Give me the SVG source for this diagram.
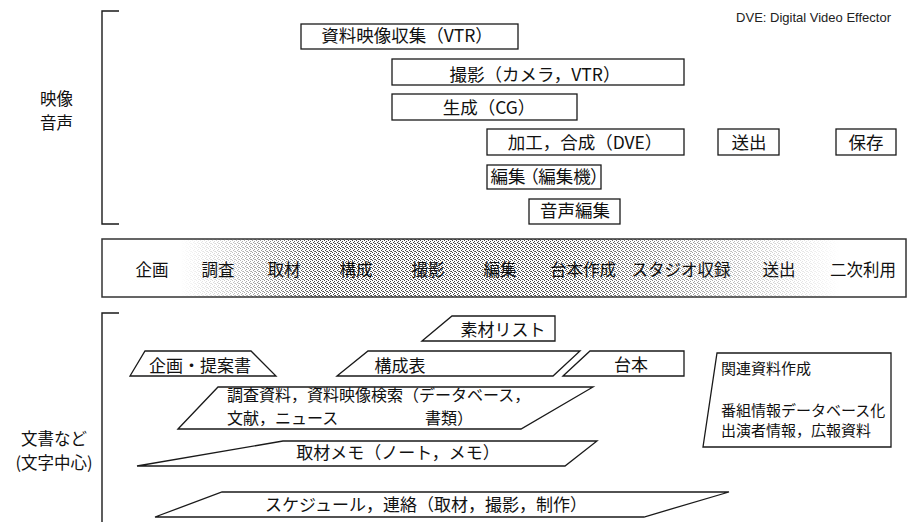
<svg xmlns="http://www.w3.org/2000/svg" width="908" height="522" viewBox="0 0 908 522">
<style>
.bx{fill:#fff;stroke:#1a1a1a;stroke-width:1.3}
.ln{fill:none;stroke:#1a1a1a;stroke-width:1.4}
.t{font-family:"Noto Sans CJK JP","Noto Sans",sans-serif;fill:#111}
.t18{font-size:17.5px}
.t17{font-size:17px}
.t16{font-size:16.5px}
.t15{font-size:15px}
.c{text-anchor:middle}
.palt{font-feature-settings:"palt"}
.en{font-family:"Liberation Sans",Arial,sans-serif;font-size:13px;fill:#222}
</style>
<defs>
<pattern id="dots" width="4" height="4" patternUnits="userSpaceOnUse">
<rect x="0" y="0" width="1" height="1" fill="#444"/>
<rect x="2" y="1" width="1" height="1" fill="#444"/>
<rect x="1" y="2" width="1" height="1" fill="#444"/>
<rect x="3" y="3" width="1" height="1" fill="#444"/>
<rect x="2" y="3" width="1" height="1" fill="#777"/>
</pattern>
<linearGradient id="fadeGrad" gradientUnits="userSpaceOnUse" x1="102" y1="0" x2="906" y2="0">
<stop offset="0.097" stop-color="#fff" stop-opacity="0"/>
<stop offset="0.159" stop-color="#fff" stop-opacity="0.3"/>
<stop offset="0.234" stop-color="#fff" stop-opacity="0.8"/>
<stop offset="0.271" stop-color="#fff" stop-opacity="1"/>
<stop offset="0.57" stop-color="#fff" stop-opacity="1"/>
<stop offset="0.67" stop-color="#fff" stop-opacity="0.75"/>
<stop offset="0.77" stop-color="#fff" stop-opacity="0.4"/>
<stop offset="0.87" stop-color="#fff" stop-opacity="0.15"/>
<stop offset="0.918" stop-color="#fff" stop-opacity="0"/>
</linearGradient>
<mask id="fade" maskUnits="userSpaceOnUse" x="0" y="0" width="908" height="522">
<rect x="102" y="239" width="804" height="58" fill="url(#fadeGrad)"/>
</mask>
</defs>
<rect width="908" height="522" fill="#fff"/>

<g id="brackets">
<path class="ln" d="M119,11 H102 V224 H119"/>
<path class="ln" d="M119,313 H102 V522"/>
</g>

<g id="label-eizo">
<text class="t t16"><tspan x="40" y="105">映像</tspan><tspan x="40" y="129">音声</tspan></text>
</g>
<g id="label-bunsho">
<text class="t t16 c"><tspan x="54" y="445">文書など</tspan><tspan x="54" y="469">(文字中心)</tspan></text>
</g>

<g id="note-dve">
<text class="en" x="891" y="22" text-anchor="end">DVE: Digital Video Effector</text>
</g>

<g id="node-shiryo-eizo">
<rect class="bx" x="301" y="24" width="217" height="25"/>
<text class="t t18 c" x="407" y="42">資料映像収集（VTR）</text>
</g>
<g id="node-satsuei">
<rect class="bx" x="392" y="59" width="292" height="26"/>
<text class="t t18 c" x="535" y="81">撮影（カメラ，VTR）</text>
</g>
<g id="node-seisei">
<rect class="bx" x="392" y="94" width="185" height="26"/>
<text class="t t18 c" x="489" y="114">生成（CG）</text>
</g>
<g id="node-kako">
<rect class="bx" x="487" y="129" width="197" height="26"/>
<text class="t t18 c" x="585" y="149">加工，合成（DVE）</text>
</g>
<g id="node-soshutsu">
<rect class="bx" x="718" y="129" width="61" height="26"/>
<text class="t t18 c" x="749" y="149">送出</text>
</g>
<g id="node-hozon">
<rect class="bx" x="836" y="129" width="60" height="26"/>
<text class="t t18 c" x="866" y="149">保存</text>
</g>
<g id="node-henshu">
<rect class="bx" x="487" y="165" width="114" height="24"/>
<text class="t t18 c palt" x="545" y="183">編集 （編集機）</text>
</g>
<g id="node-onsei">
<rect class="bx" x="529" y="199" width="91" height="25"/>
<text class="t t18 c" x="575" y="217">音声編集</text>
</g>

<g id="band">
<rect x="102" y="239" width="804" height="58" fill="#fff"/>
<rect x="102" y="239" width="804" height="58" fill="url(#dots)" mask="url(#fade)"/>
<rect x="102" y="239" width="804" height="58" fill="none" stroke="#333" stroke-width="1.5"/>
<text class="t t16 c" x="152" y="276">企画</text>
<text class="t t16 c" x="218" y="276">調査</text>
<text class="t t16 c" x="284" y="276">取材</text>
<text class="t t16 c" x="356" y="276">構成</text>
<text class="t t16 c" x="428" y="276">撮影</text>
<text class="t t16 c" x="500" y="276">編集</text>
<text class="t t16 c" x="583" y="276">台本作成</text>
<text class="t t16 c" x="681" y="276">スタジオ収録</text>
<text class="t t16 c" x="779" y="276">送出</text>
<text class="t t16 c" x="863" y="276">二次利用</text>
</g>

<g id="node-sozai">
<path class="bx" d="M422,341 L452,316 H555 V341 Z"/>
<text class="t t17 c" x="503" y="336">素材リスト</text>
</g>
<g id="node-kikaku">
<path class="bx" d="M130,376 L145,351 H251 L276,376 Z"/>
<text class="t t17 c" x="200" y="372">企画・提案書</text>
</g>
<g id="node-koseihyo">
<path class="bx" d="M337,376 L368,351 H580 L553,376 Z"/>
<text class="t t17 c" x="400" y="372">構成表</text>
</g>
<g id="node-daihon">
<path class="bx" d="M563,376 L590,351 H684 V376 Z"/>
<text class="t t17 c" x="631" y="371">台本</text>
</g>
<g id="node-chosa">
<path class="bx" d="M178,429 L218,387 H593 L521,429 Z"/>
<text class="t" style="font-size:16px" x="227" y="401">調査資料，資料映像検索（データベース，</text>
<text class="t" style="font-size:16px" x="227" y="424">文献，ニュース</text>
<text class="t" style="font-size:16px" x="425" y="424">書類）</text>
</g>
<g id="node-shuzai-memo">
<path class="bx" d="M137,466 L283,441 H597 L565,466 Z"/>
<text class="t t17 c" x="398" y="459">取材メモ（ノート，メモ）</text>
</g>
<g id="node-schedule">
<path class="bx" d="M155,517 L222,492 H729 L644,517 Z"/>
<text class="t t17 c" x="426" y="511">スケジュール，連絡（取材，撮影，制作）</text>
</g>
<g id="node-kanren">
<path class="bx" d="M717,353 H891 V447 H703 Z"/>
<text class="t t15" x="721" y="374">関連資料作成</text>
<text class="t t15" x="721" y="416">番組情報データベース化</text>
<text class="t t15" x="721" y="436">出演者情報，広報資料</text>
</g>
</svg>
